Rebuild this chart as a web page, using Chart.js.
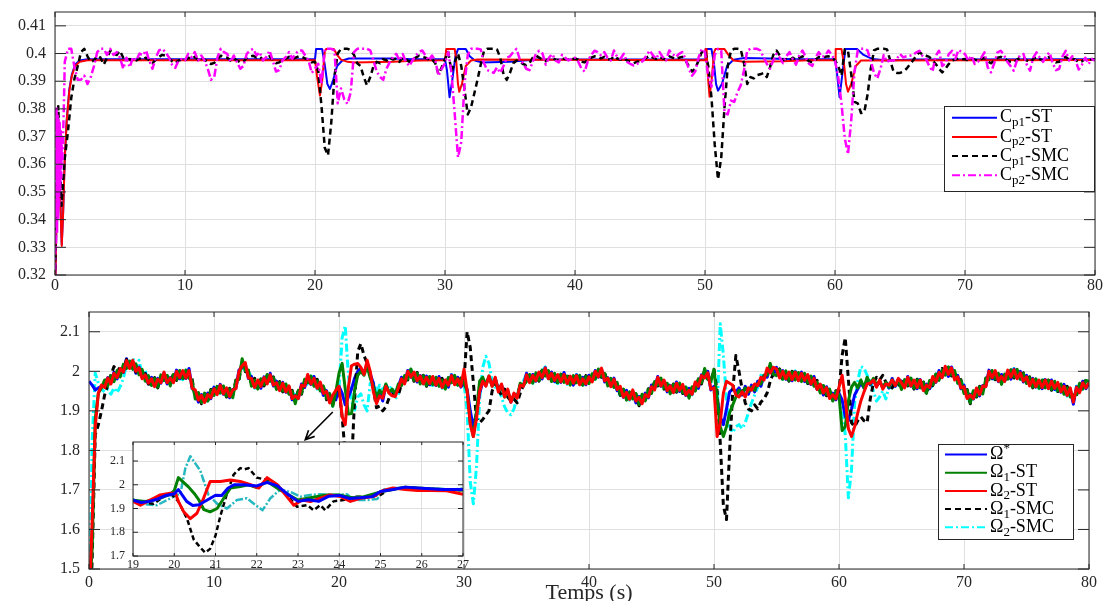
<!DOCTYPE html>
<html>
<head>
<meta charset="utf-8">
<script src="https://cdn.jsdelivr.net/npm/chart.js@4.4.1/dist/chart.umd.min.js"></script>
<style>
  html, body { margin: 0; padding: 0; background: #fff; }
  #figure { position: relative; width: 1103px; height: 601px; overflow: hidden; background: #fff; }
  #figure canvas { position: absolute; }
</style>
</head>
<body>
<div id="figure">
  <canvas id="cpChart" width="1103" height="300" style="left:0;top:0"></canvas>
  <canvas id="omegaChart" width="1103" height="301" style="left:0;top:300px"></canvas>
  <canvas id="zoomChart" width="375" height="145" style="left:95px;top:432px"></canvas>
</div>
<script>
// ---- axis ticks ----
const timeTicks = [0, 10, 20, 30, 40, 50, 60, 70, 80];
const cpTicks = [0.32, 0.33, 0.34, 0.35, 0.36, 0.37, 0.38, 0.39, 0.4, 0.41];
const omegaTicks = [1.5, 1.6, 1.7, 1.8, 1.9, 2, 2.1];
const zoomTimeTicks = [19, 20, 21, 22, 23, 24, 25, 26, 27];
const zoomOmegaTicks = [1.7, 1.8, 1.9, 2, 2.1];

// sampling clock of the simulation traces (0.25 s, 0..80 s)
const sampleTimes = Array.from({ length: 321 }, (_, i) => i * 0.25);

// ---- top panel: power coefficients ----
const cp1StTimes = [
  0, 0.15, 0.3, 0.42, 0.52, 0.62, 0.75, 0.9, 1.1, 1.3, 1.55, 1.9, 2.5,
  20, 20.08, 20.55, 20.75, 20.95, 21.15, 21.4, 21.7, 22.1, 22.6, 26, 27.5,
  30, 30.15, 30.35, 30.55, 30.8, 31, 31.6, 31.9, 32.3, 32.8, 35, 37,
  50, 50.05, 50.5, 50.7, 50.85, 51, 51.3, 51.7, 52.2, 53, 55, 57,
  60, 60.15, 60.35, 60.55, 60.8, 61.7, 62.2, 62.9, 64, 66, 80
];
const cp1StValues = [
  0.31, 0.35, 0.365, 0.345, 0.331, 0.342, 0.362, 0.376, 0.387, 0.3925, 0.396, 0.3975, 0.3979,
  0.3979, 0.4016, 0.4016, 0.396, 0.389, 0.3872, 0.3905, 0.3955, 0.3975, 0.3982, 0.3982, 0.3979,
  0.3979, 0.394, 0.3842, 0.39, 0.399, 0.4016, 0.4016, 0.399, 0.3975, 0.3968, 0.397, 0.3978,
  0.3979, 0.4016, 0.4016, 0.396, 0.389, 0.3866, 0.389, 0.3955, 0.3978, 0.3984, 0.3982, 0.3979,
  0.3979, 0.393, 0.3842, 0.392, 0.4016, 0.4016, 0.3995, 0.398, 0.3975, 0.3978, 0.3979
];
const cp2StTimes = [
  0, 0.15, 0.3, 0.42, 0.52, 0.62, 0.75, 0.9, 1.1, 1.3, 1.55, 1.9, 2.5,
  20, 20.15, 20.38, 20.55, 20.75, 20.85, 21.45, 21.7, 22, 22.5, 23, 26, 28,
  30, 30.1, 30.75, 30.85, 31, 31.1, 31.3, 31.6, 32, 32.5,
  50, 50.05, 50.12, 50.22, 50.35, 50.5, 50.7, 50.8, 51.5, 51.8, 52.2, 53, 56, 58,
  60, 60.05, 60.5, 60.7, 60.85, 61, 61.25, 61.6, 62, 80
];
const cp2StValues = [
  0.31, 0.35, 0.365, 0.345, 0.3305, 0.342, 0.362, 0.3755, 0.3865, 0.392, 0.3955, 0.397, 0.3976,
  0.3976, 0.392, 0.3848, 0.39, 0.4005, 0.4016, 0.4016, 0.3995, 0.3978, 0.397, 0.3968, 0.397, 0.3975,
  0.3976, 0.4016, 0.4016, 0.398, 0.389, 0.3862, 0.389, 0.3955, 0.3975, 0.3978,
  0.3976, 0.4016, 0.4016, 0.392, 0.3844, 0.39, 0.4005, 0.4016, 0.4016, 0.3995, 0.3975, 0.397, 0.3972, 0.3976,
  0.3976, 0.4016, 0.4016, 0.396, 0.389, 0.3862, 0.389, 0.3955, 0.3975, 0.3977
];
// Cp1-SMC on the 0.25 s grid
const cp1SmcValues = [
  0.318, 0.381, 0.345, 0.362, 0.372, 0.384, 0.391, 0.3955, 0.4005, 0.4017, 0.399, 0.397, 0.3975, 0.3992, 0.3985, 0.396, 0.3985, 0.401, 0.4, 0.3995,
  0.401, 0.3985, 0.3975, 0.398, 0.397, 0.3975, 0.3982, 0.3978, 0.3985, 0.3975, 0.3965, 0.3978, 0.3988, 0.3995, 0.3992, 0.3985, 0.3972, 0.3965, 0.3975, 0.3978,
  0.3976, 0.3985, 0.398, 0.3988, 0.3978, 0.3985, 0.3978, 0.397, 0.3962, 0.3966, 0.398, 0.3992, 0.3988, 0.3985, 0.3975, 0.3982, 0.3975, 0.3968, 0.397, 0.3985,
  0.399, 0.3992, 0.3985, 0.3988, 0.3978, 0.3982, 0.399, 0.3978, 0.3965, 0.3968, 0.3978, 0.3982, 0.3988, 0.398, 0.3985, 0.399, 0.3988, 0.3982, 0.3978, 0.3968,
  0.397, 0.3935, 0.381, 0.366, 0.3632, 0.375, 0.392, 0.4, 0.4017, 0.4017, 0.4017, 0.4012, 0.3995, 0.3965, 0.3955, 0.3915, 0.3885, 0.3915, 0.3955, 0.397,
  0.3965, 0.398, 0.3975, 0.3985, 0.3978, 0.3982, 0.397, 0.3985, 0.398, 0.397, 0.3978, 0.3985, 0.3992, 0.3988, 0.3985, 0.3978, 0.398, 0.3965, 0.3925, 0.395,
  0.398, 0.4005, 0.3935, 0.397, 0.4, 0.3955, 0.387, 0.378, 0.3805, 0.3855, 0.3905, 0.396, 0.401, 0.4017, 0.4017, 0.4017, 0.4015, 0.3985, 0.3925, 0.3905,
  0.393, 0.3965, 0.3975, 0.397, 0.3962, 0.3958, 0.3965, 0.3985, 0.3992, 0.3985, 0.3978, 0.3972, 0.3982, 0.3985, 0.3978, 0.3975, 0.3982, 0.398, 0.3978, 0.398,
  0.3982, 0.3978, 0.397, 0.3968, 0.3978, 0.3985, 0.399, 0.3988, 0.3982, 0.3988, 0.398, 0.3978, 0.399, 0.3982, 0.3978, 0.3985, 0.3975, 0.397, 0.3965, 0.397,
  0.3972, 0.3978, 0.3985, 0.3992, 0.3985, 0.398, 0.3988, 0.3982, 0.3978, 0.399, 0.3985, 0.398, 0.3985, 0.3988, 0.3975, 0.3955, 0.3935, 0.3945, 0.3975, 0.4005,
  0.4012, 0.3955, 0.384, 0.367, 0.3545, 0.3625, 0.3805, 0.3955, 0.4011, 0.4017, 0.4017, 0.4015, 0.3965, 0.389, 0.3915, 0.391, 0.3922, 0.3925, 0.393, 0.3915,
  0.395, 0.3995, 0.4011, 0.3993, 0.3975, 0.398, 0.3975, 0.3985, 0.3978, 0.3985, 0.399, 0.3982, 0.3972, 0.3968, 0.3978, 0.3988, 0.3985, 0.3988, 0.399, 0.3985,
  0.3975, 0.3955, 0.392, 0.4015, 0.401, 0.3925, 0.3825, 0.382, 0.3785, 0.3788, 0.385, 0.3945, 0.4011, 0.4017, 0.4017, 0.4017, 0.4015, 0.3975, 0.3935, 0.393,
  0.393, 0.3935, 0.3945, 0.396, 0.3975, 0.3992, 0.4005, 0.3995, 0.3992, 0.3988, 0.3975, 0.3962, 0.3945, 0.3932, 0.3945, 0.3962, 0.3975, 0.3978, 0.3982, 0.3978,
  0.398, 0.3975, 0.3982, 0.3978, 0.3975, 0.398, 0.3985, 0.3972, 0.3965, 0.3975, 0.3985, 0.3988, 0.3982, 0.3975, 0.397, 0.3968, 0.3978, 0.3985, 0.3985, 0.3975,
  0.3968, 0.398, 0.3988, 0.398, 0.3975, 0.3982, 0.3988, 0.3975, 0.3968, 0.397, 0.3982, 0.3988, 0.3978, 0.3982, 0.3978, 0.3968, 0.3972, 0.398, 0.3975, 0.398,
  0.3978
];
// Cp2-SMC: fast start-up oscillation, then the 0.25 s grid from t = 0.75 s
const cp2SmcStartTimes = [0, 0.04, 0.08, 0.12, 0.16, 0.2, 0.24, 0.28, 0.32, 0.36, 0.4, 0.44, 0.48, 0.52, 0.56, 0.6, 0.65, 0.7];
const cp2SmcStartValues = [0.31, 0.38, 0.33, 0.381, 0.335, 0.378, 0.34, 0.376, 0.345, 0.375, 0.35, 0.372, 0.355, 0.37, 0.36, 0.368, 0.375, 0.385];
const cp2SmcValues = [
  0.397, 0.4017, 0.4017, 0.395, 0.3905, 0.3905, 0.392, 0.389, 0.3915, 0.3955, 0.4005, 0.4017, 0.4017, 0.3995, 0.4017, 0.3995, 0.4005,
  0.3985, 0.3945, 0.3985, 0.395, 0.3987, 0.3975, 0.4, 0.3993, 0.4011, 0.3975, 0.3945, 0.3985, 0.4011, 0.4017, 0.4005, 0.3987, 0.396, 0.3948, 0.3975, 0.398,
  0.3975, 0.3999, 0.3987, 0.4005, 0.3975, 0.3993, 0.3975, 0.3945, 0.3905, 0.3915, 0.3987, 0.4017, 0.4005, 0.3999, 0.3969, 0.3993, 0.3969, 0.3945, 0.3955, 0.3999,
  0.4011, 0.4017, 0.3993, 0.4005, 0.3975, 0.3987, 0.4011, 0.3975, 0.3935, 0.394, 0.3975, 0.3987, 0.4005, 0.3981, 0.3999, 0.4011, 0.4011, 0.3993, 0.3975, 0.393,
  0.3945, 0.3963, 0.389, 0.4017, 0.4017, 0.4017, 0.4011, 0.382, 0.3874, 0.3835, 0.3818, 0.386, 0.4005, 0.4017, 0.4017, 0.4017, 0.4017, 0.4011, 0.3975, 0.3935,
  0.3915, 0.3905, 0.3945, 0.3969, 0.3987, 0.3999, 0.3975, 0.3998, 0.397, 0.3955, 0.3975, 0.3993, 0.4005, 0.4011, 0.3993, 0.3975, 0.3993, 0.3975, 0.392, 0.3945,
  0.3965, 0.4005, 0.393, 0.378, 0.3625, 0.368, 0.389, 0.3995, 0.4017, 0.4017, 0.4017, 0.4015, 0.3965, 0.394, 0.3935, 0.393, 0.395, 0.393, 0.3955, 0.3985,
  0.399, 0.4005, 0.4017, 0.398, 0.3965, 0.3945, 0.394, 0.397, 0.4, 0.401, 0.4, 0.396, 0.3985, 0.3998, 0.3975, 0.3968, 0.3995, 0.3985, 0.3975, 0.398,
  0.3985, 0.397, 0.3945, 0.3935, 0.3975, 0.3995, 0.401, 0.4005, 0.3993, 0.4005, 0.3985, 0.3975, 0.4011, 0.3987, 0.3981, 0.3999, 0.397, 0.3963, 0.3957, 0.3963,
  0.3965, 0.3975, 0.3993, 0.4011, 0.3993, 0.3981, 0.4005, 0.3987, 0.3975, 0.4011, 0.3999, 0.3987, 0.3999, 0.4005, 0.3981, 0.3945, 0.392, 0.3935, 0.3985, 0.4017,
  0.4005, 0.3915, 0.388, 0.3995, 0.4017, 0.4011, 0.3785, 0.378, 0.383, 0.3825, 0.386, 0.3885, 0.394, 0.4011, 0.4017, 0.4017, 0.4017, 0.4011, 0.3987, 0.3963,
  0.3945, 0.3975, 0.3999, 0.3985, 0.3965, 0.399, 0.4005, 0.398, 0.396, 0.3993, 0.4011, 0.3987, 0.3963, 0.3955, 0.3985, 0.4005, 0.3987, 0.3993, 0.4011, 0.3995,
  0.3975, 0.3915, 0.382, 0.3695, 0.3636, 0.376, 0.3935, 0.4011, 0.4017, 0.4017, 0.4011, 0.3975, 0.393, 0.391, 0.3945, 0.3995, 0.397, 0.3975, 0.3975, 0.398,
  0.3998, 0.3986, 0.399, 0.3992, 0.3995, 0.4004, 0.401, 0.399, 0.398, 0.3955, 0.3935, 0.3992, 0.401, 0.3955, 0.3965, 0.3998, 0.401, 0.398, 0.4013, 0.4005,
  0.3998, 0.3975, 0.3992, 0.3962, 0.397, 0.3985, 0.4004, 0.395, 0.3932, 0.3965, 0.4004, 0.401, 0.3995, 0.397, 0.3955, 0.3938, 0.3975, 0.3995, 0.3998, 0.396,
  0.3938, 0.3985, 0.4004, 0.3985, 0.397, 0.3992, 0.4004, 0.3965, 0.394, 0.3945, 0.399, 0.401, 0.3975, 0.399, 0.3975, 0.3942, 0.396, 0.3985, 0.3962, 0.398,
  0.3974
];

// ---- bottom panel: rotor speeds (0.25 s grid, one row = 5 s) ----
const omegaRefValues = [
  1.975, 1.965, 1.953, 1.958, 1.962, 1.97, 1.984, 1.97, 1.998, 1.981, 2.003, 1.997, 2.032, 2.008, 2.024, 1.995, 2.011, 1.985, 1.995, 1.968,
  1.985, 1.964, 1.982, 1.97, 1.996, 1.968, 1.984, 1.973, 2.003, 1.981, 1.998, 1.982, 2.007, 1.958, 1.949, 1.922, 1.941, 1.925, 1.945, 1.931,
  1.96, 1.944, 1.967, 1.942, 1.956, 1.933, 1.954, 1.958, 2.003, 2.011, 2.018, 1.982, 1.987, 1.96, 1.974, 1.957, 1.986, 1.972, 1.995, 1.963,
  1.975, 1.954, 1.972, 1.947, 1.961, 1.928, 1.939, 1.933, 1.968, 1.959, 1.988, 1.967, 1.987, 1.958, 1.969, 1.939, 1.951, 1.924, 1.932, 1.928,
  1.962, 1.945, 1.915, 1.935, 1.955, 1.983, 2, 2.008, 1.995, 2.018, 1.993, 1.97, 1.922, 1.948, 1.925, 1.965, 1.948, 1.95, 1.94, 1.962,
  1.985, 1.971, 2.002, 1.985, 1.996, 1.973, 1.989, 1.97, 1.988, 1.966, 1.983, 1.964, 1.987, 1.96, 1.974, 1.96, 1.991, 1.97, 1.985, 1.96,
  1.97, 1.955, 1.9, 1.86, 1.895, 1.945, 1.972, 1.968, 1.985, 1.965, 1.982, 1.955, 1.966, 1.938, 1.95, 1.922, 1.942, 1.935, 1.965, 1.962,
  1.995, 1.974, 1.992, 1.975, 1.996, 1.981, 2.009, 1.983, 1.998, 1.974, 1.988, 1.972, 1.997, 1.97, 1.984, 1.965, 1.991, 1.97, 1.985, 1.966,
  1.99, 1.976, 2.002, 1.985, 2.006, 1.973, 1.984, 1.963, 1.983, 1.951, 1.958, 1.934, 1.952, 1.93, 1.949, 1.92, 1.936, 1.922, 1.945, 1.933,
  1.965, 1.956, 1.987, 1.962, 1.976, 1.948, 1.964, 1.948, 1.973, 1.949, 1.963, 1.939, 1.957, 1.943, 1.969, 1.957, 1.991, 1.987, 2, 1.953,
  1.962, 1.93, 1.885, 1.865, 1.905, 1.948, 1.955, 1.948, 1.958, 1.94, 1.962, 1.942, 1.965, 1.948, 1.975, 1.962, 1.99, 1.985, 2.012, 1.99,
  2.01, 1.986, 2.002, 1.98, 1.996, 1.976, 1.999, 1.978, 1.998, 1.974, 1.988, 1.967, 1.987, 1.955, 1.964, 1.94, 1.961, 1.935, 1.945, 1.928,
  1.945, 1.928, 1.885, 1.875, 1.905, 1.94, 1.955, 1.97, 1.958, 1.98, 1.966, 1.978, 1.962, 1.975, 1.958, 1.972, 1.958, 1.982, 1.962, 1.98,
  1.975, 1.961, 1.987, 1.962, 1.976, 1.956, 1.979, 1.953, 1.968, 1.956, 1.983, 1.972, 2.002, 1.985, 2.009, 1.987, 2.011, 1.982, 1.99, 1.956,
  1.965, 1.934, 1.942, 1.93, 1.956, 1.938, 1.964, 1.963, 2.003, 1.981, 1.998, 1.974, 1.992, 1.975, 1.999, 1.98, 2.006, 1.985, 2, 1.973,
  1.99, 1.966, 1.982, 1.96, 1.976, 1.956, 1.979, 1.958, 1.978, 1.954, 1.968, 1.947, 1.967, 1.94, 1.954, 1.917, 1.961, 1.95, 1.975, 1.956,
  1.97
];
const omega1StValues = [
  1.42, 1.55, 1.88, 1.945, 1.958, 1.978, 1.963, 1.989, 1.974, 2.002, 1.986, 2.018, 2.007, 2.026, 2.005, 2.019, 1.991, 2.005, 1.975, 1.989,
  1.964, 1.982, 1.96, 1.991, 1.977, 1.99, 1.963, 1.992, 1.979, 2.002, 1.981, 2.003, 1.982, 1.976, 1.93, 1.946, 1.921, 1.945, 1.925, 1.952,
  1.939, 1.962, 1.945, 1.963, 1.937, 1.955, 1.933, 1.977, 1.979, 2.032, 2.001, 2.003, 1.962, 1.978, 1.955, 1.981, 1.966, 1.992, 1.975, 1.984,
  1.954, 1.972, 1.95, 1.968, 1.942, 1.95, 1.918, 1.952, 1.944, 1.98, 1.971, 1.988, 1.962, 1.976, 1.95, 1.963, 1.931, 1.944, 1.912, 1.949,
  1.995, 2.02, 1.955, 1.892, 1.893, 1.952, 1.99, 2, 1.99, 2.012, 1.983, 1.962, 1.935, 1.952, 1.942, 1.968, 1.945, 1.955, 1.942, 1.968,
  1.964, 1.989, 1.98, 2.006, 1.977, 1.995, 1.968, 1.989, 1.964, 1.987, 1.966, 1.985, 1.962, 1.978, 1.955, 1.984, 1.971, 1.99, 1.965, 1.981,
  1.97, 1.95, 1.87, 1.835, 1.9, 1.975, 1.985, 1.965, 1.988, 1.962, 1.982, 1.952, 1.962, 1.935, 1.95, 1.925, 1.94, 1.935, 1.97, 1.965,
  1.974, 1.992, 1.97, 1.996, 1.977, 2.003, 1.988, 2.002, 1.974, 1.995, 1.971, 1.993, 1.972, 1.988, 1.965, 1.989, 1.971, 1.99, 1.965, 1.987,
  1.969, 1.994, 1.98, 2.006, 1.987, 1.995, 1.963, 1.982, 1.959, 1.972, 1.941, 1.955, 1.927, 1.948, 1.93, 1.944, 1.916, 1.942, 1.925, 1.954,
  1.944, 1.974, 1.965, 1.983, 1.957, 1.97, 1.943, 1.967, 1.949, 1.97, 1.946, 1.96, 1.932, 1.961, 1.95, 1.981, 1.971, 2.007, 1.98, 1.974,
  2.005, 1.93, 1.86, 1.835, 1.86, 1.895, 1.915, 1.935, 1.952, 1.945, 1.958, 1.948, 1.96, 1.952, 1.97, 1.968, 1.99, 1.99, 2.02, 1.992,
  1.989, 2.004, 1.98, 2.001, 1.977, 1.998, 1.978, 1.997, 1.974, 1.995, 1.971, 1.988, 1.962, 1.973, 1.945, 1.964, 1.941, 1.955, 1.925, 1.949,
  1.94, 1.85, 1.86, 1.925, 1.96, 1.972, 1.958, 1.978, 1.958, 1.985, 1.968, 1.982, 1.966, 1.975, 1.96, 1.972, 1.96, 1.978, 1.965, 1.976,
  1.954, 1.979, 1.965, 1.983, 1.957, 1.978, 1.958, 1.972, 1.944, 1.977, 1.966, 1.993, 1.977, 2.003, 1.99, 2.011, 1.991, 2.002, 1.97, 1.977,
  1.944, 1.952, 1.92, 1.951, 1.937, 1.96, 1.943, 1.982, 1.979, 2.002, 1.981, 1.995, 1.967, 1.993, 1.98, 2.004, 1.986, 2.005, 1.98, 1.994,
  1.969, 1.984, 1.96, 1.981, 1.957, 1.978, 1.958, 1.977, 1.954, 1.975, 1.951, 1.968, 1.942, 1.958, 1.935, 1.941, 1.941, 1.97, 1.955, 1.977,
  1.975
];
const omega2StValues = [
  1.4, 1.62, 1.86, 1.945, 1.965, 1.959, 1.983, 1.968, 1.995, 1.984, 2.007, 1.998, 2.027, 2.007, 2.028, 2, 2.009, 1.981, 1.991, 1.97,
  1.981, 1.961, 1.98, 1.971, 1.998, 1.971, 1.983, 1.971, 2, 1.984, 2.002, 1.983, 2.002, 1.957, 1.953, 1.927, 1.939, 1.921, 1.941, 1.933,
  1.956, 1.941, 1.965, 1.943, 1.958, 1.936, 1.953, 1.956, 2, 2.014, 2.022, 1.983, 1.982, 1.959, 1.978, 1.962, 1.984, 1.968, 1.991, 1.965,
  1.971, 1.951, 1.97, 1.948, 1.963, 1.931, 1.938, 1.931, 1.965, 1.962, 1.992, 1.968, 1.982, 1.957, 1.973, 1.944, 1.949, 1.92, 1.94, 1.952,
  1.962, 1.885, 1.865, 1.96, 2.014, 2.018, 2.02, 2.01, 1.992, 2.028, 2, 1.948, 1.918, 1.938, 1.932, 1.962, 1.945, 1.938, 1.936, 1.958,
  1.981, 1.968, 2, 1.986, 1.998, 1.976, 1.988, 1.968, 1.985, 1.969, 1.987, 1.965, 1.982, 1.959, 1.978, 1.965, 1.989, 1.966, 1.981, 1.962,
  2.005, 1.95, 1.865, 1.835, 1.88, 1.95, 1.975, 1.962, 1.988, 1.962, 1.985, 1.948, 1.968, 1.935, 1.955, 1.922, 1.945, 1.932, 1.965, 1.962,
  1.991, 1.971, 1.99, 1.976, 1.998, 1.984, 2.008, 1.981, 1.995, 1.977, 1.992, 1.973, 1.992, 1.969, 1.988, 1.97, 1.989, 1.966, 1.981, 1.968,
  1.986, 1.973, 2, 1.986, 2.008, 1.976, 1.983, 1.961, 1.98, 1.954, 1.962, 1.935, 1.947, 1.929, 1.953, 1.925, 1.934, 1.918, 1.941, 1.935,
  1.961, 1.953, 1.985, 1.963, 1.978, 1.951, 1.963, 1.946, 1.97, 1.952, 1.967, 1.94, 1.952, 1.942, 1.973, 1.962, 1.989, 1.983, 1.996, 1.955,
  1.958, 1.835, 1.87, 1.945, 1.975, 1.97, 1.965, 1.94, 1.935, 1.948, 1.935, 1.958, 1.952, 1.968, 1.964, 1.985, 1.978, 2.008, 1.996, 2.01,
  2.006, 1.983, 2, 1.981, 1.998, 1.979, 1.998, 1.976, 1.995, 1.977, 1.992, 1.968, 1.982, 1.954, 1.968, 1.945, 1.959, 1.931, 1.941, 1.93,
  1.96, 1.99, 1.93, 1.855, 1.835, 1.86, 1.895, 1.925, 1.948, 1.968, 1.97, 1.978, 1.96, 1.978, 1.955, 1.968, 1.965, 1.978, 1.964, 1.982,
  1.971, 1.958, 1.985, 1.963, 1.978, 1.959, 1.978, 1.951, 1.965, 1.959, 1.987, 1.973, 1.997, 1.984, 2.013, 1.992, 2.009, 1.978, 1.986, 1.958,
  1.961, 1.931, 1.94, 1.931, 1.958, 1.941, 1.963, 1.961, 2, 1.984, 2.002, 1.975, 1.987, 1.974, 2.003, 1.985, 2.004, 1.981, 1.996, 1.975,
  1.986, 1.963, 1.98, 1.961, 1.978, 1.959, 1.978, 1.956, 1.975, 1.957, 1.972, 1.948, 1.962, 1.939, 1.958, 1.922, 1.959, 1.946, 1.971, 1.958,
  1.972
];
const omega1SmcValues = [
  1.35, 1.52, 1.84, 1.865, 1.9, 1.94, 1.965, 1.99, 2.012, 1.998, 2.012, 2, 2.03, 2.01, 2.025, 1.998, 2.008, 1.985, 1.994, 1.968,
  1.968, 1.984, 1.958, 1.986, 1.975, 1.992, 1.969, 1.993, 1.977, 1.997, 1.979, 2.002, 1.987, 1.98, 1.933, 1.945, 1.918, 1.941, 1.926, 1.954,
  1.943, 1.964, 1.943, 1.958, 1.935, 1.957, 1.939, 1.978, 1.977, 2.027, 1.999, 2.002, 1.967, 1.982, 1.958, 1.98, 1.963, 1.988, 1.976, 1.986,
  1.958, 1.974, 1.948, 1.963, 1.94, 1.952, 1.924, 1.953, 1.942, 1.975, 1.969, 1.987, 1.967, 1.98, 1.953, 1.962, 1.928, 1.94, 1.913, 1.951,
  1.955, 1.885, 1.79, 1.725, 1.76, 1.93, 2.05, 2.07, 2.04, 2.02, 1.99, 1.955, 1.908, 1.912, 1.9, 1.91, 1.932, 1.94, 1.945, 1.94,
  1.968, 1.991, 1.978, 2.001, 1.975, 1.997, 1.974, 1.99, 1.962, 1.982, 1.964, 1.984, 1.967, 1.982, 1.958, 1.983, 1.968, 1.986, 1.966, 1.983,
  1.975, 2.1, 2.06, 1.97, 1.88, 1.87, 1.878, 1.89, 1.9, 1.95, 1.97, 1.952, 1.94, 1.955, 1.935, 1.925, 1.93, 1.92, 1.945, 1.965,
  1.978, 1.994, 1.968, 1.991, 1.975, 2.005, 1.994, 2.003, 1.972, 1.99, 1.969, 1.992, 1.977, 1.992, 1.968, 1.988, 1.968, 1.986, 1.966, 1.989,
  1.973, 1.996, 1.978, 2.001, 1.985, 1.997, 1.969, 1.983, 1.957, 1.967, 1.939, 1.954, 1.932, 1.952, 1.933, 1.943, 1.913, 1.938, 1.926, 1.956,
  1.948, 1.976, 1.963, 1.978, 1.955, 1.972, 1.949, 1.968, 1.947, 1.965, 1.944, 1.959, 1.937, 1.965, 1.953, 1.98, 1.968, 2.003, 1.981, 1.976,
  2.005, 1.95, 1.82, 1.66, 1.625, 1.8, 1.95, 2.04, 2, 1.955, 1.92, 1.905, 1.9, 1.915, 1.905, 1.922, 1.93, 1.945, 1.975, 1.995,
  1.993, 2.006, 1.978, 1.996, 1.975, 2, 1.984, 1.998, 1.972, 1.99, 1.969, 1.987, 1.967, 1.977, 1.948, 1.963, 1.938, 1.951, 1.926, 1.951,
  1.95, 2.04, 2.085, 1.98, 1.87, 1.86, 1.875, 1.885, 1.875, 1.87, 1.93, 1.97, 1.985, 1.978, 1.99, 1.972, 1.965, 1.958, 1.975, 1.968,
  1.958, 1.981, 1.963, 1.978, 1.955, 1.98, 1.964, 1.973, 1.942, 1.972, 1.964, 1.992, 1.982, 2.007, 1.993, 2.01, 1.988, 1.998, 1.971, 1.979,
  1.948, 1.954, 1.918, 1.946, 1.935, 1.962, 1.949, 1.983, 1.977, 1.997, 1.979, 1.994, 1.972, 1.997, 1.983, 2.003, 1.983, 2.001, 1.981, 1.996,
  1.973, 1.986, 1.958, 1.976, 1.955, 1.98, 1.964, 1.978, 1.952, 1.97, 1.949, 1.967, 1.947, 1.962, 1.938, 1.94, 1.938, 1.966, 1.956, 1.979,
  1.97
];
const omega2SmcValues = [
  1.3, 1.82, 1.995, 1.97, 1.955, 1.948, 1.955, 1.942, 1.958, 1.946, 1.962, 1.982, 2.018, 2.012, 2.034, 2.01, 2.028, 1.992, 2.002, 1.97,
  1.983, 1.967, 1.96, 1.99, 1.976, 1.987, 1.986, 1.971, 1.999, 1.982, 1.979, 2.003, 2.002, 1.955, 1.95, 1.926, 1.942, 1.926, 1.925, 1.952,
  1.958, 1.947, 1.945, 1.962, 1.936, 1.952, 1.956, 1.956, 1.999, 2.012, 1.999, 2.003, 1.982, 1.957, 1.975, 1.961, 1.987, 1.973, 1.975, 1.984,
  1.973, 1.957, 1.95, 1.967, 1.941, 1.947, 1.941, 1.931, 1.964, 1.96, 1.969, 1.988, 1.982, 1.955, 1.97, 1.943, 1.952, 1.925, 1.912, 1.949,
  1.958, 2.085, 2.115, 1.99, 1.925, 1.902, 1.935, 1.943, 1.915, 1.9, 1.97, 1.972, 1.948, 1.965, 1.952, 1.966, 1.955, 1.962, 1.93, 1.942,
  1.983, 1.974, 1.98, 2.005, 1.976, 1.992, 1.991, 1.968, 1.984, 1.967, 1.964, 1.985, 1.982, 1.957, 1.975, 1.964, 1.992, 1.971, 1.965, 1.981,
  1.97, 1.9, 1.72, 1.665, 1.76, 1.93, 2.01, 2.038, 2.02, 1.975, 1.96, 1.955, 1.935, 1.91, 1.895, 1.89, 1.905, 1.935, 1.96, 1.975,
  1.993, 1.977, 1.97, 1.995, 1.976, 2, 2.011, 1.981, 1.994, 1.975, 1.969, 1.993, 1.992, 1.967, 1.985, 1.969, 1.992, 1.971, 1.965, 1.987,
  1.988, 1.979, 1.98, 2.005, 1.986, 1.992, 1.986, 1.961, 1.979, 1.952, 1.939, 1.955, 1.947, 1.927, 1.95, 1.924, 1.937, 1.923, 1.925, 1.954,
  1.963, 1.959, 1.965, 1.982, 1.956, 1.967, 1.966, 1.946, 1.969, 1.95, 1.944, 1.96, 1.952, 1.94, 1.97, 1.961, 1.992, 1.988, 1.98, 1.974,
  1.95, 1.9, 2.12, 2.04, 1.93, 1.86, 1.845, 1.86, 1.865, 1.855, 1.87, 1.895, 1.92, 1.94, 1.96, 1.99, 1.985, 1.995, 2.005, 2,
  2.008, 1.989, 1.98, 2, 1.976, 1.995, 2.001, 1.976, 1.994, 1.975, 1.969, 1.988, 1.982, 1.952, 1.965, 1.944, 1.962, 1.936, 1.925, 1.949,
  1.945, 1.9, 1.84, 1.68, 1.75, 1.92, 1.975, 2.012, 2.008, 1.99, 1.975, 1.95, 1.925, 1.935, 1.95, 1.93, 1.962, 1.958, 1.975, 1.965,
  1.973, 1.964, 1.965, 1.982, 1.956, 1.975, 1.981, 1.951, 1.964, 1.957, 1.964, 1.993, 1.997, 1.982, 2.01, 1.991, 2.012, 1.983, 1.97, 1.977,
  1.963, 1.937, 1.92, 1.95, 1.936, 1.957, 1.966, 1.961, 1.999, 1.982, 1.979, 1.995, 1.987, 1.972, 2, 1.984, 2.007, 1.986, 1.98, 1.994,
  1.988, 1.969, 1.96, 1.98, 1.956, 1.975, 1.981, 1.956, 1.974, 1.955, 1.949, 1.968, 1.962, 1.937, 1.955, 1.921, 1.962, 1.951, 1.955, 1.977,
  1.97
];

// ---- inset: zoom on 19..27 s ----
const zoomRefTimes = [19, 19.2, 19.4, 19.6, 19.8, 20, 20.1, 20.3, 20.45, 20.6, 20.8, 21, 21.15, 21.3, 21.45, 21.7, 22, 22.25, 22.5, 22.75, 23, 23.25, 23.5, 23.75, 24, 24.25, 24.5, 24.8, 25, 25.3, 25.6, 26, 26.5, 27];
const zoomRefValues = [1.935, 1.925, 1.93, 1.94, 1.955, 1.962, 1.98, 1.93, 1.913, 1.916, 1.936, 1.956, 1.955, 1.985, 2, 2, 1.995, 2.01, 1.995, 1.96, 1.93, 1.937, 1.93, 1.952, 1.955, 1.942, 1.945, 1.95, 1.972, 1.98, 1.99, 1.985, 1.98, 1.98];
const zoom1StTimes = [19, 19.3, 19.6, 19.9, 20, 20.1, 20.2, 20.35, 20.5, 20.6, 20.72, 20.87, 21.04, 21.2, 21.36, 21.6, 21.8, 22, 22.25, 22.5, 22.75, 23, 23.3, 23.7, 24, 24.3, 24.6, 25, 25.3, 25.6, 26, 26.5, 27];
const zoom1StValues = [1.935, 1.93, 1.94, 1.96, 1.975, 2.03, 2.014, 1.99, 1.96, 1.935, 1.895, 1.886, 1.9, 1.943, 1.986, 1.993, 2, 1.988, 2.014, 1.985, 1.96, 1.936, 1.945, 1.957, 1.957, 1.945, 1.95, 1.97, 1.98, 1.99, 1.985, 1.98, 1.978];
const zoom2StTimes = [19, 19.18, 19.35, 19.5, 19.66, 19.9, 20.03, 20.1, 20.23, 20.39, 20.55, 20.71, 20.87, 21.12, 21.36, 21.6, 21.85, 22.05, 22.25, 22.5, 22.73, 22.9, 23.1, 23.3, 23.54, 23.78, 24.03, 24.27, 24.51, 24.83, 25.05, 25.3, 25.6, 25.9, 26.2, 26.6, 27];
const zoom2StValues = [1.93, 1.914, 1.93, 1.943, 1.957, 1.964, 1.964, 1.93, 1.886, 1.857, 1.88, 1.943, 2.014, 2.014, 2.02, 2.014, 2, 1.986, 2.03, 2, 1.95, 1.914, 1.936, 1.929, 1.943, 1.957, 1.95, 1.93, 1.943, 1.95, 1.975, 1.986, 1.98, 1.976, 1.976, 1.975, 1.96];
const zoom1SmcTimes = [19, 19.5, 19.8, 19.95, 20.1, 20.31, 20.47, 20.63, 20.75, 20.87, 21, 21.12, 21.28, 21.44, 21.6, 21.7, 21.8, 22, 22.25, 22.5, 22.73, 22.98, 23.22, 23.38, 23.54, 23.66, 23.86, 24.1, 24.4, 24.7, 25, 25.2, 25.5, 25.9, 26.3, 26.7, 27];
const zoom1SmcValues = [1.93, 1.92, 1.957, 1.957, 1.93, 1.857, 1.77, 1.736, 1.714, 1.73, 1.786, 1.87, 1.964, 2.043, 2.07, 2.065, 2.07, 2.03, 2.02, 1.99, 1.957, 1.907, 1.914, 1.893, 1.914, 1.893, 1.93, 1.936, 1.95, 1.95, 1.957, 1.98, 1.986, 1.98, 1.976, 1.976, 1.978];
const zoom2SmcTimes = [19, 19.18, 19.58, 19.99, 20.15, 20.27, 20.39, 20.63, 20.83, 21.04, 21.28, 21.52, 21.76, 21.93, 22.14, 22.33, 22.57, 22.81, 23.06, 23.3, 23.54, 23.86, 24.19, 24.35, 24.67, 24.92, 25.08, 25.4, 25.72, 25.97, 26.37, 26.77, 27];
const zoom2SmcValues = [1.94, 1.92, 1.914, 1.95, 1.964, 2.07, 2.12, 2.06, 1.957, 1.92, 1.9, 1.936, 1.943, 1.92, 1.893, 1.943, 1.98, 1.97, 1.95, 1.957, 1.96, 1.957, 1.96, 1.936, 1.936, 1.94, 1.98, 1.986, 1.99, 1.983, 1.983, 1.98, 1.984];

// arrow from the main trace to the inset (data units)
const arrowFrom = [19.5, 1.897];
const arrowTo = [17.3, 1.827];

// ---- helpers ----
const SERIF = '"Liberation Serif", "Times New Roman", serif';
Chart.defaults.font.family = SERIF;
Chart.defaults.color = '#262626';

const toPoints = (times, values) => values.map((v, i) => ({ x: times[i], y: v }));

const trace = (label, parts, color, width, dash, order, data) => ({
  label, labelParts: parts, data, order,
  borderColor: color, borderWidth: width, borderDash: dash,
  pointRadius: 0, tension: 0, fill: false, clip: 0,
  borderJoinStyle: 'round'
});

const makeScales = (cfg) => ({
  x: {
    type: 'linear', min: cfg.xMin, max: cfg.xMax,
    afterBuildTicks: axis => { axis.ticks = cfg.xTicks.map(value => ({ value })); },
    afterFit: axis => { axis.height = cfg.xHeight; axis.paddingLeft = 0; axis.paddingRight = 0; },
    grid: { color: '#dfdfdf', drawTicks: false },
    border: { display: false },
    ticks: { font: { size: cfg.fontSize }, padding: cfg.xPad, maxRotation: 0, autoSkip: false, callback: v => String(v) },
    title: cfg.title || { display: false }
  },
  y: {
    type: 'linear', min: cfg.yMin, max: cfg.yMax,
    afterBuildTicks: axis => { axis.ticks = cfg.yTicks.map(value => ({ value })); },
    afterFit: axis => { axis.width = cfg.yWidth; axis.paddingTop = 0; axis.paddingBottom = 0; },
    grid: { color: '#dfdfdf', drawTicks: false },
    border: { display: false },
    ticks: { font: { size: cfg.fontSize }, padding: cfg.yPad, autoSkip: false, callback: v => String(v) }
  }
});

// MATLAB-like box with inward tick marks on all four sides
const matlabAxes = {
  id: 'matlabAxes',
  afterDraw(chart, args, opts) {
    const { ctx, chartArea: { left, right, top, bottom }, scales: { x, y } } = chart;
    ctx.save();
    ctx.strokeStyle = '#262626';
    ctx.lineWidth = 1;
    ctx.beginPath();
    x.ticks.forEach(t => {
      const px = x.getPixelForValue(t.value);
      ctx.moveTo(px, bottom); ctx.lineTo(px, bottom - opts.xTick);
      ctx.moveTo(px, top); ctx.lineTo(px, top + opts.xTick);
    });
    y.ticks.forEach(t => {
      const py = y.getPixelForValue(t.value);
      ctx.moveTo(left, py); ctx.lineTo(left + opts.yTick, py);
      ctx.moveTo(right, py); ctx.lineTo(right - opts.yTick, py);
    });
    ctx.stroke();
    ctx.strokeRect(left, top, right - left, bottom - top);
    ctx.restore();
  }
};

// boxed legend with sub/superscripts
const boxLegend = {
  id: 'boxLegend',
  afterDraw(chart, args, opts) {
    const { ctx } = chart;
    ctx.save();
    ctx.fillStyle = '#ffffff';
    ctx.fillRect(opts.left, opts.top, opts.width, opts.height);
    ctx.strokeStyle = '#262626';
    ctx.lineWidth = 1;
    ctx.strokeRect(opts.left + 0.5, opts.top + 0.5, opts.width, opts.height);
    chart.data.datasets.forEach((ds, i) => {
      const y = opts.top + opts.firstRow + i * opts.rowGap;
      ctx.strokeStyle = ds.borderColor;
      ctx.lineWidth = opts.lineWidth;
      ctx.setLineDash(ds.borderDash || []);
      ctx.beginPath();
      ctx.moveTo(opts.left + opts.sampleFrom, y);
      ctx.lineTo(opts.left + opts.sampleTo, y);
      ctx.stroke();
      ctx.setLineDash([]);
      ctx.fillStyle = '#000000';
      ctx.textBaseline = 'middle';
      let x = opts.left + opts.textFrom;
      ds.labelParts.forEach(([text, kind]) => {
        const small = kind === 'sub' || kind === 'sup';
        ctx.font = `${small ? opts.smallSize : opts.fontSize}px ${SERIF}`;
        const dy = kind === 'sub' ? opts.subShift : kind === 'sup' ? -opts.supShift : 0;
        ctx.fillText(text, x, y + dy);
        x += ctx.measureText(text).width;
      });
    });
    ctx.restore();
  }
};

const arrowAnnotation = {
  id: 'arrowAnnotation',
  afterDraw(chart, args, opts) {
    const { ctx, scales: { x, y } } = chart;
    const x1 = x.getPixelForValue(opts.from[0]), y1 = y.getPixelForValue(opts.from[1]);
    const x2 = x.getPixelForValue(opts.to[0]), y2 = y.getPixelForValue(opts.to[1]);
    const angle = Math.atan2(y2 - y1, x2 - x1);
    const head = 10, spread = Math.PI / 7;
    ctx.save();
    ctx.strokeStyle = '#000';
    ctx.lineWidth = 1.6;
    ctx.beginPath();
    ctx.moveTo(x1, y1);
    ctx.lineTo(x2, y2);
    ctx.moveTo(x2 - head * Math.cos(angle - spread), y2 - head * Math.sin(angle - spread));
    ctx.lineTo(x2, y2);
    ctx.lineTo(x2 - head * Math.cos(angle + spread), y2 - head * Math.sin(angle + spread));
    ctx.stroke();
    ctx.restore();
  }
};

const plotFill = {
  id: 'plotFill',
  beforeDraw(chart) {
    const { ctx, chartArea: { left, top, width, height } } = chart;
    ctx.save();
    ctx.fillStyle = '#ffffff';
    ctx.fillRect(left, top, width, height);
    ctx.restore();
  }
};

const baseOptions = {
  responsive: false,
  animation: false,
  events: []
};

// ---- top chart ----
new Chart(document.getElementById('cpChart'), {
  type: 'line',
  data: {
    datasets: [
      trace('Cp1-ST', [['C', ''], ['p1', 'sub'], ['-ST', '']], '#0000ff', 2, [], 3, toPoints(cp1StTimes, cp1StValues)),
      trace('Cp2-ST', [['C', ''], ['p2', 'sub'], ['-ST', '']], '#ff0000', 2, [], 2, toPoints(cp2StTimes, cp2StValues)),
      trace('Cp1-SMC', [['C', ''], ['p1', 'sub'], ['-SMC', '']], '#000000', 2.5, [6, 4], 1, toPoints(sampleTimes, cp1SmcValues)),
      trace('Cp2-SMC', [['C', ''], ['p2', 'sub'], ['-SMC', '']], '#ff00ff', 2.5, [8, 3, 2, 3], 0,
        toPoints(cp2SmcStartTimes, cp2SmcStartValues).concat(toPoints(sampleTimes.slice(3), cp2SmcValues)))
    ]
  },
  options: {
    ...baseOptions,
    layout: { padding: { top: 12, right: 8, left: 0, bottom: 0 } },
    scales: makeScales({
      xMin: 0, xMax: 80, xTicks: timeTicks, xHeight: 25, xPad: 1,
      yMin: 0.32, yMax: 0.415, yTicks: cpTicks, yWidth: 55, yPad: 9,
      fontSize: 16
    }),
    plugins: {
      legend: { display: false },
      tooltip: { enabled: false },
      matlabAxes: { xTick: 5, yTick: 11 },
      boxLegend: {
        left: 944, top: 106, width: 150, height: 85,
        firstRow: 11.7, rowGap: 19.2, sampleFrom: 8, sampleTo: 53, textFrom: 56,
        fontSize: 18, smallSize: 13, subShift: 5, supShift: 5, lineWidth: 2
      }
    }
  },
  plugins: [matlabAxes, boxLegend]
});

// ---- bottom chart ----
new Chart(document.getElementById('omegaChart'), {
  type: 'line',
  data: {
    datasets: [
      trace('Ω*', [['Ω', ''], ['*', 'sup']], '#0000ff', 3, [], 3, toPoints(sampleTimes, omegaRefValues)),
      trace('Ω1-ST', [['Ω', ''], ['1', 'sub'], ['-ST', '']], '#008000', 3, [], 1, toPoints(sampleTimes, omega1StValues)),
      trace('Ω2-ST', [['Ω', ''], ['2', 'sub'], ['-ST', '']], '#ff0000', 3, [], 0, toPoints(sampleTimes, omega2StValues)),
      trace('Ω1-SMC', [['Ω', ''], ['1', 'sub'], ['-SMC', '']], '#000000', 3, [6, 4], 2, toPoints(sampleTimes, omega1SmcValues)),
      trace('Ω2-SMC', [['Ω', ''], ['2', 'sub'], ['-SMC', '']], '#00ffff', 3, [8, 3, 2, 3], 4, toPoints(sampleTimes, omega2SmcValues))
    ]
  },
  options: {
    ...baseOptions,
    layout: { padding: { top: 12, right: 14, left: 0, bottom: 0 } },
    scales: makeScales({
      xMin: 0, xMax: 80, xTicks: timeTicks, xHeight: 32, xPad: 4,
      yMin: 1.5, yMax: 2.15, yTicks: omegaTicks, yWidth: 89, yPad: 9,
      fontSize: 16,
      title: { display: true, text: 'Temps (s)', font: { size: 22, lineHeight: 1 }, padding: { top: 0, bottom: -3 }, color: '#262626' }
    }),
    plugins: {
      legend: { display: false },
      tooltip: { enabled: false },
      matlabAxes: { xTick: 5, yTick: 11 },
      arrowAnnotation: { from: arrowFrom, to: arrowTo },
      boxLegend: {
        left: 938, top: 144, width: 135, height: 95,
        firstRow: 10.5, rowGap: 18.2, sampleFrom: 7, sampleTo: 49, textFrom: 52,
        fontSize: 18, smallSize: 13, subShift: 5, supShift: 6, lineWidth: 2
      }
    }
  },
  plugins: [matlabAxes, arrowAnnotation, boxLegend]
});

// ---- inset ----
new Chart(document.getElementById('zoomChart'), {
  type: 'line',
  data: {
    datasets: [
      trace('Ω*', [], '#0000ff', 3, [], 0, toPoints(zoomRefTimes, zoomRefValues)),
      trace('Ω1-ST', [], '#008000', 3, [], 2, toPoints(zoom1StTimes, zoom1StValues)),
      trace('Ω2-ST', [], '#ff0000', 3, [], 1, toPoints(zoom2StTimes, zoom2StValues)),
      trace('Ω1-SMC', [], '#000000', 2.5, [5, 3], 3, toPoints(zoom1SmcTimes, zoom1SmcValues)),
      trace('Ω2-SMC', [], '#26b8c1', 2.5, [8, 2, 2, 2], 4, toPoints(zoom2SmcTimes, zoom2SmcValues))
    ]
  },
  options: {
    ...baseOptions,
    layout: { padding: { top: 10, right: 7, left: 0, bottom: 0 } },
    scales: makeScales({
      xMin: 19, xMax: 27, xTicks: zoomTimeTicks, xHeight: 21, xPad: 2,
      yMin: 1.7, yMax: 2.18, yTicks: zoomOmegaTicks, yWidth: 38, yPad: 8,
      fontSize: 12
    }),
    plugins: {
      legend: { display: false },
      tooltip: { enabled: false },
      matlabAxes: { xTick: 3, yTick: 5 }
    }
  },
  plugins: [plotFill, matlabAxes]
});
</script>
</body>
</html>
